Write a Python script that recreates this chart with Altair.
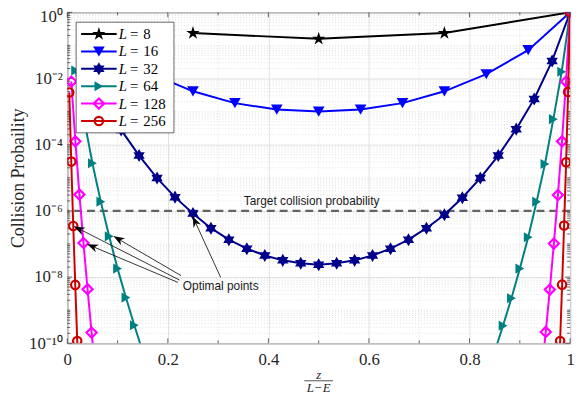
import math
import altair as alt
import pandas as pd

# ---------------- data ----------------
E = 4
W, H = 509, 335

series_L = [8, 16, 32, 64, 128, 256]
series_labels = ["8", "16", "32", "64", "128", "256"]
series_colors = ["#000000", "#0000ff", "#00008b", "#008080", "#ff00ff", "#cc0000"]
PENTAGRAM = ("M0,-1L0.225,-0.309L0.951,-0.309L0.363,0.118L0.588,0.809L0,0.382"
             "L-0.588,0.809L-0.363,0.118L-0.951,-0.309L-0.225,-0.309Z")
HEXAGRAM = ("M0,-1L0.289,-0.5L0.866,-0.5L0.577,0L0.866,0.5L0.289,0.5L0,1"
            "L-0.289,0.5L-0.866,0.5L-0.577,0L-0.866,-0.5L-0.289,-0.5Z")
series_shapes = [PENTAGRAM, "triangle-down", HEXAGRAM, "triangle-right", "diamond", "circle"]
series_filled = [True, True, True, True, False, False]
series_sizes = [200, 140, 175, 105, 105, 72]

z_L8 = [1, 2, 3, 4]
p_L8 = [0.236, 0.158, 0.236, 1.0]

z_L16 = list(range(1, 13))
p_L16 = [7.2e-2, 1.4e-2, 4.1e-3, 1.8e-3, 1.15e-3, 1.0e-3,
         1.15e-3, 1.8e-3, 4.1e-3, 1.35e-2, 7.2e-2, 1.0]

z_L32 = list(range(1, 29))
p_L32 = [3.4e-2, 2.4e-3, 2.8e-4, 4.7e-5, 9.8e-6, 2.6e-6, 8.3e-7, 3.0e-7,
         1.35e-7, 7.2e-8, 4.5e-8, 3.2e-8, 2.6e-8, 2.35e-8, 2.6e-8, 3.2e-8,
         4.5e-8, 7.2e-8, 1.35e-7, 3.0e-7, 7.6e-7, 2.5e-6, 9.8e-6, 4.7e-5,
         2.95e-4, 2.4e-3, 3.4e-2, 1.0]

z_L64 = [1, 2, 3, 4, 5, 6, 7, 8, 9, 51, 52, 53, 54, 55, 56, 57, 58, 59, 60]
p_L64 = [1.74e-2, 6.0e-4, 2.75e-5, 1.9e-6, 1.7e-7, 1.8e-8, 2.4e-9, 3.5e-10, 5.6e-11,
         5.6e-11, 3.4e-10, 2.3e-9, 1.8e-8, 1.6e-7, 1.9e-6, 2.6e-5, 5.9e-4, 1.6e-2, 1.0]

z_L128 = [1, 2, 3, 4, 5, 6, 7, 117, 118, 119, 120, 121, 122, 123, 124]
p_L128 = [8.1e-3, 1.26e-4, 3.1e-6, 1.07e-7, 4.3e-9, 2.1e-10, 1.3e-11,
          1.3e-11, 2.2e-10, 4.2e-9, 1.03e-7, 3.0e-6, 1.26e-4, 8.1e-3, 1.0]

z_L256 = [1, 2, 3, 4, 5, 6, 246, 247, 248, 249, 250, 251, 252]
p_L256 = [3.8e-3, 3.1e-5, 3.5e-7, 5.8e-9, 1.17e-10, 3.2e-12,
          3.2e-12, 1.17e-10, 5.9e-9, 3.6e-7, 2.95e-5, 3.9e-3, 1.0]

series_z = [z_L8, z_L16, z_L32, z_L64, z_L128, z_L256]
series_p = [p_L8, p_L16, p_L32, p_L64, p_L128, p_L256]

target_p = [1e-6]
target_label = ["Target collision probability"]
target_label_x = [0.486]

arrow_tail_x = [0.305, 0.2265, 0.220, 0.2234]
arrow_tail_p = [9.8e-9, 1.1e-8, 6.9e-9, 8.1e-9]
arrow_tip_x = [0.2495, 0.0923, 0.0399, 0.0138]
arrow_tip_p = [6.8e-7, 1.7e-7, 9.8e-8, 3.4e-7]
annot_label = ["Optimal points"]
annot_x = [0.2299]
annot_p = [5.5e-9]

x_major = [0, 0.2, 0.4, 0.6, 0.8, 1.0]
x_minor = [0.1, 0.3, 0.5, 0.7, 0.9]
y_major = [1, 1e-2, 1e-4, 1e-6, 1e-8, 1e-10]
y_minor = [m * 10.0 ** n for n in range(-10, 0) for m in range(1, 10)
           if not (m == 1 and n % 2 == 0)]

AX = "#262626"
SERIF = "Liberation Serif"
SANS = "Liberation Sans"

# ---------------- scales / axes ----------------
X_SCALE = alt.Scale(domain=[0, 1], nice=False, zero=False)
Y_SCALE = alt.Scale(type="log", domain=[1e-10, 1], nice=False)
X_AXIS = alt.Axis(values=x_major, format="~g", grid=True, gridColor="#e2e2e2",
                  gridWidth=1, ticks=False, domain=False, labelFont=SERIF,
                  labelFontSize=17, labelColor=AX, labelPadding=9,
                  labelFlush=False, title=None)
Y_AXIS = alt.Axis(values=y_major, grid=True, gridColor="#e2e2e2", gridWidth=1,
                  ticks=False, domain=False, labelFont=SERIF, labelFontSize=17,
                  labelColor=AX, labelPadding=5,
                  labelOffset={"condition": {"test": "datum.value >= 0.5", "value": 4},
                               "value": 0},
                  labelExpr="'10' + ['⁰','⁻²','⁻⁴','⁻⁶','⁻⁸','⁻¹⁰'][round(-log(datum.value)/LN10/2)]",
                  title="Collision Probaility", titleFont=SERIF, titleFontSize=18,
                  titleFontWeight="normal", titleColor=AX, titleAngle=270,
                  titleX=-44, titleY=H / 2, titleAlign="center",
                  titleBaseline="alphabetic")


def X(field="x"):
    return alt.X(f"{field}:Q", scale=X_SCALE, axis=X_AXIS)


def Y(field="p"):
    return alt.Y(f"{field}:Q", scale=Y_SCALE, axis=Y_AXIS)


dummy = pd.DataFrame({"d": [0]})
layers = []

# minor grid
layers.append(alt.Chart(pd.DataFrame({"p": y_minor})).mark_rule(
    color="#cfcfcf", strokeWidth=0.6, strokeDash=[1, 2]).encode(y=Y()))
layers.append(alt.Chart(pd.DataFrame({"x": x_minor})).mark_rule(
    color="#cfcfcf", strokeWidth=0.6, strokeDash=[1, 2]).encode(x=X()))

# inward ticks
xmaj = pd.DataFrame({"x": x_major})
xmin = pd.DataFrame({"x": x_minor})
ymaj = pd.DataFrame({"p": y_major})
ymin = pd.DataFrame({"p": y_minor})
for df, ln in [(xmaj, 5), (xmin, 3)]:
    layers.append(alt.Chart(df).mark_rule(color=AX, strokeWidth=0.7).encode(
        x=X(), y=alt.value(H - ln), y2=alt.value(H)))
    layers.append(alt.Chart(df).mark_rule(color=AX, strokeWidth=0.7).encode(
        x=X(), y=alt.value(0), y2=alt.value(ln)))
for df, ln in [(ymaj, 5), (ymin, 3)]:
    layers.append(alt.Chart(df).mark_rule(color=AX, strokeWidth=0.7).encode(
        y=Y(), x=alt.value(0), x2=alt.value(ln)))
    layers.append(alt.Chart(df).mark_rule(color=AX, strokeWidth=0.7).encode(
        y=Y(), x=alt.value(W - ln), x2=alt.value(W)))

# target line + label
layers.append(alt.Chart(pd.DataFrame({"p": target_p})).mark_rule(
    color="#636363", strokeWidth=2.4, strokeDash=[8, 5]).encode(y=Y()))
layers.append(alt.Chart(pd.DataFrame({"x": target_label_x, "p": target_p,
                                      "t": target_label})).mark_text(
    font=SANS, fontSize=12, dy=-10, baseline="middle", align="center",
    color="#1a1a1a").encode(x=X(), y=Y(), text="t:N"))

# series
for L, z, p, c, shp, fil, sz in zip(series_L, series_z, series_p, series_colors,
                                     series_shapes, series_filled, series_sizes):
    df = pd.DataFrame({"x": [zz / (L - E) for zz in z], "p": p})
    layers.append(alt.Chart(df).mark_line(color=c, strokeWidth=2, clip=True)
                  .encode(x=X(), y=Y()))
    layers.append(alt.Chart(df).mark_point(
        shape=shp, filled=fil, size=sz, color=c, opacity=1,
        strokeWidth=1.2 if fil else 2.2, clip=True).encode(x=X(), y=Y()))

# arrows
def px(v):
    return v * W


def py(v):
    return -math.log10(v) * H / 10


angles = [math.degrees(math.atan2(px(tx) - px(sx), -(py(tp) - py(sp)))) % 360
          for sx, sp, tx, tp in zip(arrow_tail_x, arrow_tail_p, arrow_tip_x, arrow_tip_p)]
arr = pd.DataFrame({"x": arrow_tail_x, "p": arrow_tail_p, "x2": arrow_tip_x,
                    "p2": arrow_tip_p, "ang": angles})
layers.append(alt.Chart(arr).mark_rule(color="black", strokeWidth=0.8).encode(
    x=X("x"), y=Y("p"), x2="x2:Q", y2="p2:Q"))
ARROW = "M0,0L0.75,2L0,1.4L-0.75,2Z"
layers.append(alt.Chart(arr).mark_point(shape=ARROW, filled=True, size=120,
                                        color="black", opacity=1).encode(
    x=X("x2"), y=Y("p2"), angle=alt.Angle("ang:Q", scale=None)))
layers.append(alt.Chart(pd.DataFrame({"x": annot_x, "p": annot_p, "t": annot_label}))
              .mark_text(font=SANS, fontSize=12, align="left", baseline="middle",
                         color="#1a1a1a").encode(x=X(), y=Y(), text="t:N"))

# legend
layers.append(alt.Chart(dummy).mark_rect(fill="white", stroke=AX, strokeWidth=0.7)
              .encode(x=alt.value(9), x2=alt.value(108), y=alt.value(10), y2=alt.value(122)))
for i, (lab, c, shp, fil, sz) in enumerate(zip(series_labels, series_colors, series_shapes,
                                               series_filled, series_sizes)):
    yy = 22 + i * 17.6
    layers.append(alt.Chart(dummy).mark_rule(color=c, strokeWidth=2).encode(
        x=alt.value(14), x2=alt.value(50), y=alt.value(yy)))
    layers.append(alt.Chart(dummy).mark_point(
        shape=shp, filled=fil, size=sz, color=c, opacity=1,
        strokeWidth=1.2 if fil else 2.2).encode(x=alt.value(32), y=alt.value(yy)))
    layers.append(alt.Chart(dummy).mark_text(
        text="L", font=SERIF, fontStyle="italic", fontSize=15, align="left",
        baseline="middle", color="black").encode(x=alt.value(52), y=alt.value(yy)))
    layers.append(alt.Chart(dummy).mark_text(
        text="=", font=SERIF, fontSize=15, align="left",
        baseline="middle", color="black").encode(x=alt.value(63.5), y=alt.value(yy)))
    layers.append(alt.Chart(dummy).mark_text(
        text=lab, font=SERIF, fontSize=15, align="left",
        baseline="middle", color="black").encode(x=alt.value(77), y=alt.value(yy)))

# x title as fraction z / (L - E)
layers.append(alt.Chart(dummy).mark_text(
    text="z", font=SERIF, fontStyle="italic", fontSize=13, align="center",
    baseline="middle", color=AX).encode(x=alt.value(254.5), y=alt.value(367)))
layers.append(alt.Chart(dummy).mark_rule(color=AX, strokeWidth=0.8).encode(
    x=alt.value(240), x2=alt.value(269), y=alt.value(373)))
layers.append(alt.Chart(dummy).mark_text(
    text="L−E", font=SERIF, fontStyle="italic", fontSize=13, align="center",
    baseline="middle", color=AX).encode(x=alt.value(254.5), y=alt.value(380)))

chart = alt.layer(*layers).properties(
    width=W, height=H,
    autosize=alt.AutoSizeParams(type="none"),
    padding={"left": 60, "top": 2, "right": 8, "bottom": 49},
    background="white",
).configure_view(stroke=AX, strokeWidth=1)

chart.save("out.html", embed_options={"renderer": "svg", "actions": False})
